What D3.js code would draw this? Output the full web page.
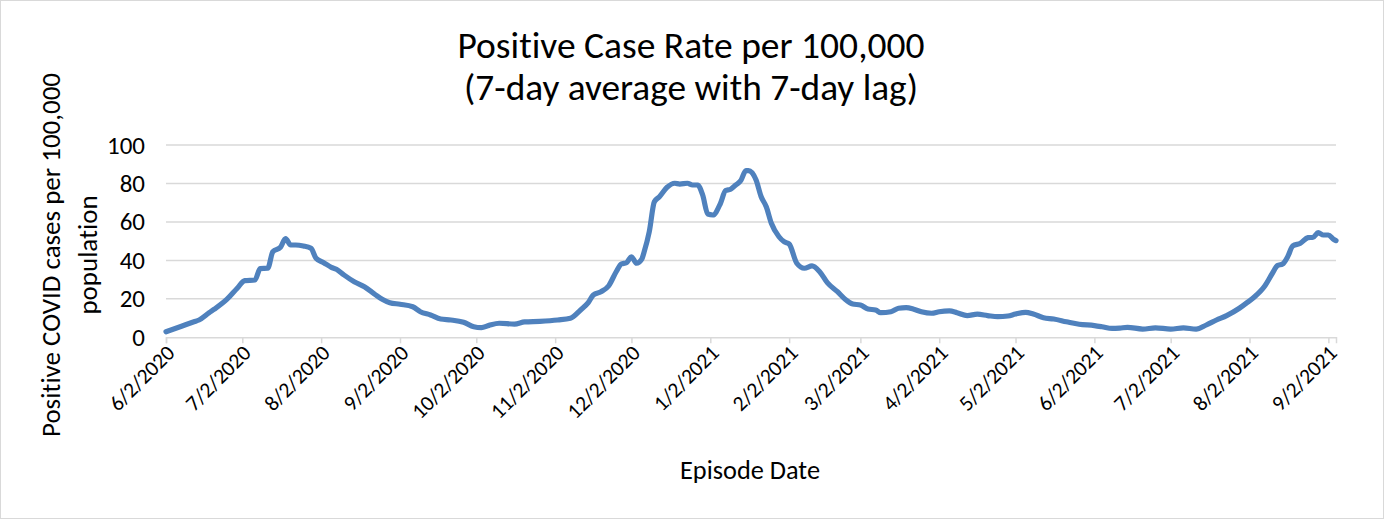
<!DOCTYPE html>
<html>
<head>
<meta charset="utf-8">
<script src="https://cdn.jsdelivr.net/npm/d3@7"></script>
<style>
  html, body { margin: 0; padding: 0; background: #fff; }
  svg { display: block; }
  text { font-family: Carlito, Calibri, Lato, "Open Sans", sans-serif; fill: #000; font-variant-ligatures: none; }
</style>
</head>
<body>
<svg id="chart" width="1384" height="519"></svg>
<script>
// ---- data ----
const titleLines = ["Positive Case Rate per 100,000", "(7-day average with 7-day lag)"];
const yTitleLines = ["Positive COVID cases per 100,000", "population"];
const xTitle = "Episode Date";
const yTicks = [0, 20, 40, 60, 80, 100];
const xTickLabels = ["6/2/2020","7/2/2020","8/2/2020","9/2/2020","10/2/2020","11/2/2020","12/2/2020",
  "1/2/2021","2/2/2021","3/2/2021","4/2/2021","5/2/2021","6/2/2021","7/2/2021","8/2/2021","9/2/2021"];
const xDomain = ["2020-06-02", "2021-09-05"];
const dates = [
  "2020-06-02","2020-06-07","2020-06-13","2020-06-15","2020-06-19","2020-06-21","2020-06-26","2020-06-30",
  "2020-07-03","2020-07-07","2020-07-09","2020-07-12","2020-07-14","2020-07-17","2020-07-19","2020-07-21",
  "2020-07-23","2020-07-26","2020-07-29","2020-07-31","2020-08-03","2020-08-06","2020-08-08","2020-08-11",
  "2020-08-15","2020-08-19","2020-08-23","2020-08-26","2020-08-29","2020-09-02","2020-09-07","2020-09-10",
  "2020-09-14","2020-09-18","2020-09-22","2020-09-27","2020-10-01","2020-10-04","2020-10-07","2020-10-11",
  "2020-10-17","2020-10-21","2020-10-27","2020-11-03","2020-11-08","2020-11-12","2020-11-15","2020-11-17",
  "2020-11-20","2020-11-23","2020-11-26","2020-11-28","2020-11-30","2020-12-02","2020-12-04","2020-12-06",
  "2020-12-07","2020-12-09","2020-12-11","2020-12-13","2020-12-16","2020-12-19","2020-12-21","2020-12-24",
  "2020-12-26","2020-12-28","2020-12-30","2021-01-01","2021-01-03","2021-01-06","2021-01-08","2021-01-10",
  "2021-01-12","2021-01-14","2021-01-16","2021-01-17","2021-01-20","2021-01-22","2021-01-24","2021-01-26",
  "2021-01-29","2021-01-31","2021-02-02","2021-02-05","2021-02-08","2021-02-11","2021-02-14","2021-02-17",
  "2021-02-21","2021-02-24","2021-02-27","2021-03-02","2021-03-05","2021-03-08","2021-03-10","2021-03-14",
  "2021-03-17","2021-03-20","2021-03-23","2021-03-26","2021-03-30","2021-04-02","2021-04-06","2021-04-09",
  "2021-04-13","2021-04-17","2021-04-21","2021-04-25","2021-04-29","2021-05-02","2021-05-06","2021-05-09",
  "2021-05-13","2021-05-17","2021-05-22","2021-05-27","2021-06-02","2021-06-05","2021-06-09","2021-06-12",
  "2021-06-15","2021-06-21","2021-06-26","2021-07-02","2021-07-07","2021-07-12","2021-07-16","2021-07-20",
  "2021-07-24","2021-07-29","2021-08-01","2021-08-04","2021-08-08","2021-08-11","2021-08-13","2021-08-15",
  "2021-08-17","2021-08-19","2021-08-22","2021-08-25","2021-08-27","2021-08-29","2021-08-31","2021-09-02",
  "2021-09-04","2021-09-05"
];
const rates = [
  2.9, 5.2, 8.1, 9.0, 12.8, 14.6, 19.8, 25.5,
  29.5, 29.8, 35.7, 35.9, 44.5, 46.8, 51.3, 48.0,
  48.0, 47.5, 46.3, 41.1, 38.8, 36.4, 35.4, 32.4,
  28.9, 26.3, 22.5, 19.8, 18.0, 17.2, 15.9, 13.3,
  11.6, 9.5, 9.0, 7.8, 5.5, 5.0, 6.2, 7.3,
  6.9, 8.0, 8.3, 9.0, 9.9, 14.2, 18.0, 22.0,
  23.7, 26.7, 34.1, 38.1, 38.8, 41.9, 38.5, 40.5,
  44.5, 54.9, 70.5, 73.1, 78.0, 80.1, 79.7, 80.1,
  79.2, 79.2, 74.0, 64.1, 63.6, 69.7, 76.3, 77.0,
  79.2, 81.5, 86.7, 86.7, 81.8, 73.1, 67.9, 59.3,
  52.3, 49.7, 48.5, 38.5, 35.9, 37.1, 34.1, 28.4,
  23.7, 19.8, 17.3, 16.8, 14.7, 14.2, 12.8, 13.3,
  15.1, 15.4, 14.6, 13.3, 12.5, 13.3, 13.7, 12.8,
  11.3, 12.0, 11.3, 10.7, 11.1, 12.1, 13.0, 12.1,
  10.2, 9.5, 8.1, 6.8, 6.1, 5.5, 4.6, 4.8,
  5.2, 4.3, 4.9, 4.3, 4.9, 4.2, 6.4, 9.0,
  11.3, 15.1, 18.0, 21.1, 26.7, 33.3, 37.3, 38.1,
  41.9, 47.5, 48.9, 51.8, 52.0, 54.4, 53.2, 53.2,
  51.0, 50.3
];

// ---- chart ----
const svg = d3.select("#chart");
const W = 1384, H = 519;
const plot = { left: 166, right: 1336, top: 145, bottom: 337.3 };
const parse = d3.timeParse("%Y-%m-%d");
const parseTick = d3.timeParse("%m/%d/%Y");

svg.append("rect").attr("x", 0.5).attr("y", 0.5).attr("width", W - 1).attr("height", H - 1)
  .attr("fill", "#fff").attr("stroke", "#d9d9d9").attr("stroke-width", 1);

const x = d3.scaleTime().domain(xDomain.map(parse)).range([plot.left, plot.right]);
const y = d3.scaleLinear().domain([0, 100]).range([plot.bottom, plot.top]);

function fit(sel, target) {
  let fs = parseFloat(sel.attr("font-size"));
  for (let i = 0; i < 3; i++) {
    const w = sel.node().getComputedTextLength();
    if (w > 0) { fs = fs * target / w; sel.attr("font-size", fs); }
  }
  return fs;
}

// gridlines
svg.append("g").selectAll("line").data(yTicks.filter(d => d > 0)).join("line")
  .attr("x1", plot.left).attr("x2", plot.right)
  .attr("y1", d => y(d)).attr("y2", d => y(d))
  .attr("stroke", "#d9d9d9").attr("stroke-width", 1.5);

// x axis
const tickDates = xTickLabels.map(parseTick);
const xAxis = d3.axisBottom(x).tickValues(tickDates).tickSize(6).tickFormat("");
const gx = svg.append("g").attr("transform", `translate(0,${plot.bottom})`).call(xAxis);
gx.select(".domain").attr("stroke", "#d9d9d9").attr("stroke-width", 1.5);
gx.selectAll(".tick line").attr("stroke", "#d9d9d9").attr("stroke-width", 1.5);

// x tick labels rotated
const xl = svg.append("g").selectAll("text").data(xTickLabels).join("text")
  .attr("transform", (d, i) => `translate(${x(tickDates[i]) + 5},${plot.bottom + 12}) rotate(-45)`)
  .attr("text-anchor", "end").attr("dominant-baseline", "central")
  .attr("font-size", 19).text(d => d);
const fsx = fit(d3.select(xl.nodes()[4]), 93);
xl.attr("font-size", fsx);

// y tick labels
const yl = svg.append("g").selectAll("text").data(yTicks).join("text")
  .attr("x", 145).attr("y", d => y(d)).attr("text-anchor", "end")
  .attr("dominant-baseline", "central").attr("font-size", 20).text(d => d);
const fsy = fit(d3.select(yl.nodes()[5]), 38);
yl.attr("font-size", fsy);

// line
const data = dates.map((d, i) => ({ date: parse(d), value: rates[i] }));
const line = d3.line().x(d => x(d.date)).y(d => y(d.value)).curve(d3.curveMonotoneX);
svg.append("path").datum(data).attr("d", line)
  .attr("fill", "none").attr("stroke", "#4f81bd").attr("stroke-width", 5.2)
  .attr("stroke-linejoin", "round").attr("stroke-linecap", "round");

// title
const t1 = svg.append("text").attr("x", 691).attr("y", 58).attr("text-anchor", "middle")
  .attr("font-size", 30).text(titleLines[0]);
fit(t1, 467);
const t2 = svg.append("text").attr("x", 691).attr("y", 100).attr("text-anchor", "middle")
  .attr("font-size", 30).text(titleLines[1]);
fit(t2, 454);

// y title
const yt1 = svg.append("text").attr("transform", "translate(50,255) rotate(-90)")
  .attr("text-anchor", "middle").attr("dominant-baseline", "central").attr("font-size", 22).text(yTitleLines[0]);
fit(yt1, 364);
const yt2 = svg.append("text").attr("transform", "translate(87,255) rotate(-90)")
  .attr("text-anchor", "middle").attr("dominant-baseline", "central").attr("font-size", 22).text(yTitleLines[1]);
yt2.attr("font-size", yt1.attr("font-size"));

// x title
const xt = svg.append("text").attr("x", 750).attr("y", 470).attr("text-anchor", "middle")
  .attr("dominant-baseline", "central").attr("font-size", 22).text(xTitle);
fit(xt, 140);
</script>
</body>
</html>
